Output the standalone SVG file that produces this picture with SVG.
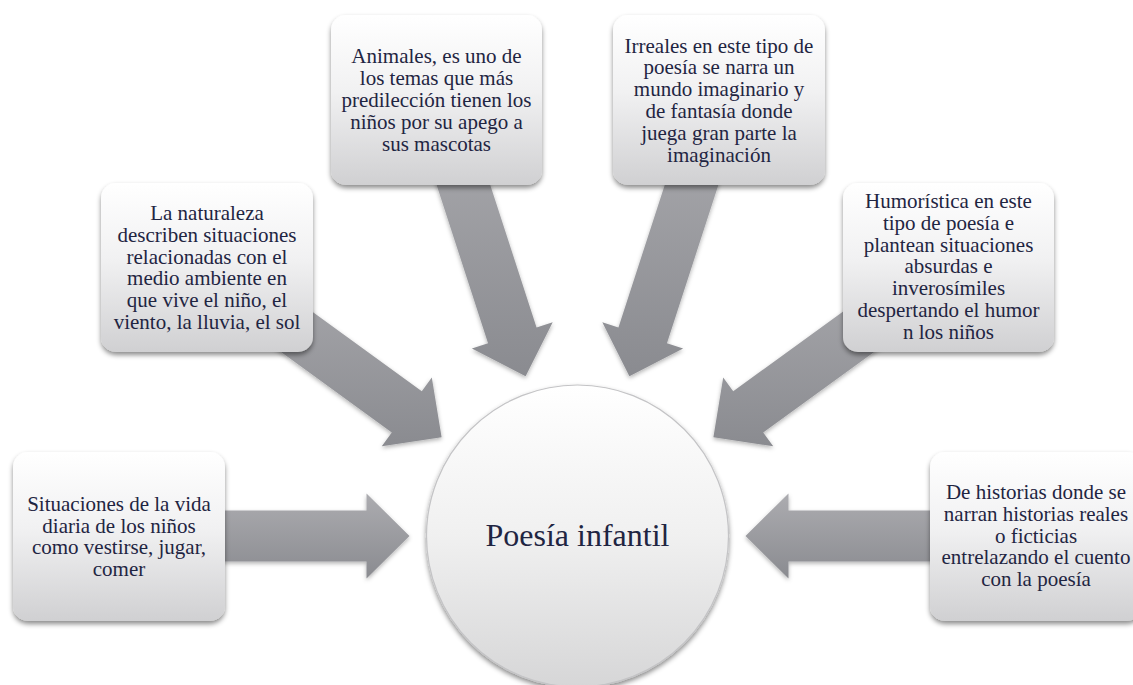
<svg xmlns="http://www.w3.org/2000/svg" width="1133" height="685" viewBox="0 0 1133 685">
<defs>
<linearGradient id="boxGrad" x1="0" y1="0" x2="0" y2="1">
<stop offset="0" stop-color="#ffffff"/>
<stop offset="0.45" stop-color="#f1f1f2"/>
<stop offset="1" stop-color="#d0d0d2"/>
</linearGradient>
<linearGradient id="circGrad" x1="0" y1="0" x2="0" y2="1">
<stop offset="0" stop-color="#ffffff"/>
<stop offset="0.5" stop-color="#f0f0f0"/>
<stop offset="1" stop-color="#d6d6d7"/>
</linearGradient>
<linearGradient id="arrGrad" x1="0" y1="0" x2="0" y2="1">
<stop offset="0" stop-color="#acacb0"/>
<stop offset="1" stop-color="#8a8b90"/>
</linearGradient>
<filter id="shadow" x="-10%" y="-10%" width="120%" height="130%">
<feDropShadow dx="0" dy="3" stdDeviation="2.5" flood-color="#000" flood-opacity="0.45"/>
</filter>
<filter id="ashadow" x="-10%" y="-10%" width="120%" height="130%">
<feDropShadow dx="0" dy="2" stdDeviation="2" flood-color="#000" flood-opacity="0.3"/>
</filter>
</defs>
<style>
.box{fill:url(#boxGrad);filter:url(#shadow);}
.arrow{fill:url(#arrGrad);filter:url(#ashadow);}
.t{font-size:21px;fill:#1f2542;text-anchor:middle;}
.tc{font-size:32px;fill:#1f2542;text-anchor:middle;}
</style>
<rect width="1133" height="685" fill="#ffffff"/>
<g id="connectors">
<polygon class="arrow" points="409.5,536 366.5,493.5 366.5,510.5 119.5,510.5 119.5,561.5 366.5,561.5 366.5,578.5"/>
<polygon class="arrow" points="441.6,437.25 431.8,377.6 421.8,391.3 222.0,246.2 192.0,287.4 391.8,432.6 381.8,446.35"/>
<polygon class="arrow" points="525.6,376.2 552.7,322.2 536.55,327.4 460.2,92.5 411.7,108.3 488.05,343.2 471.9,348.45"/>
<polygon class="arrow" points="629.4,376.2 602.3,322.2 618.45,327.4 694.8,92.5 743.3,108.3 666.95,343.2 683.1,348.45"/>
<polygon class="arrow" points="713.4,437.25 723.2,377.6 733.2,391.3 933.0,246.2 963.0,287.4 763.2,432.6 773.2,446.35"/>
<polygon class="arrow" points="745.5,536 788.5,493.5 788.5,510.5 1035.5,510.5 1035.5,561.5 788.5,561.5 788.5,578.5"/>
</g>
<g font-family="'Liberation Serif', 'DejaVu Serif', serif">
<g id="center">
<circle cx="577.5" cy="536" r="151" fill="url(#circGrad)" stroke="#c4c4c6" stroke-width="1.2" filter="url(#shadow)"/>
<text class="tc" x="577.5" y="546">Poesía infantil</text>
</g>
<g id="n1">
<rect class="box" x="13" y="452" width="212" height="169" rx="15"/>
<text class="t"><tspan x="119" y="510.8">Situaciones de la vida</tspan><tspan x="119" y="532.6">diaria de los niños</tspan><tspan x="119" y="554.4">como vestirse, jugar,</tspan><tspan x="119" y="576.2">comer</tspan></text>
</g>
<g id="n2">
<rect class="box" x="101" y="183" width="212" height="169" rx="15"/>
<text class="t"><tspan x="207" y="220">La naturaleza</tspan><tspan x="207" y="241.8">describen situaciones</tspan><tspan x="207" y="263.6">relacionadas con el</tspan><tspan x="207" y="285.4">medio ambiente en</tspan><tspan x="207" y="307.2">que vive el niño, el</tspan><tspan x="207" y="329">viento, la lluvia, el sol</tspan></text>
</g>
<g id="n3">
<rect class="box" x="331" y="15" width="211" height="170" rx="15"/>
<text class="t"><tspan x="436.5" y="63.4">Animales, es uno de</tspan><tspan x="436.5" y="85.2">los temas que más</tspan><tspan x="436.5" y="107">predilección tienen los</tspan><tspan x="436.5" y="128.8">niños por su apego a</tspan><tspan x="436.5" y="150.6">sus mascotas</tspan></text>
</g>
<g id="n4">
<rect class="box" x="613" y="15" width="212" height="170" rx="15"/>
<text class="t"><tspan x="719" y="52.5">Irreales en este tipo de</tspan><tspan x="719" y="74.3">poesía se narra un</tspan><tspan x="719" y="96.1">mundo imaginario y</tspan><tspan x="719" y="117.9">de fantasía donde</tspan><tspan x="719" y="139.7">juega gran parte la</tspan><tspan x="719" y="161.5">imaginación</tspan></text>
</g>
<g id="n5">
<rect class="box" x="843" y="183" width="211" height="169" rx="15"/>
<text class="t"><tspan x="948.5" y="208">Humorística en este</tspan><tspan x="948.5" y="229.8">tipo de poesía e</tspan><tspan x="948.5" y="251.6">plantean situaciones</tspan><tspan x="948.5" y="273.4">absurdas e</tspan><tspan x="948.5" y="295.2">inverosímiles</tspan><tspan x="948.5" y="317">despertando el humor</tspan><tspan x="948.5" y="338.8">n los niños</tspan></text>
</g>
<g id="n6">
<rect class="box" x="930" y="452" width="212" height="169" rx="15"/>
<text class="t"><tspan x="1036" y="499">De historias donde se</tspan><tspan x="1036" y="520.8">narran historias reales</tspan><tspan x="1036" y="542.6">o ficticias</tspan><tspan x="1036" y="564.4">entrelazando el cuento</tspan><tspan x="1036" y="586.2">con la poesía</tspan></text>
</g>
</g>
</svg>
